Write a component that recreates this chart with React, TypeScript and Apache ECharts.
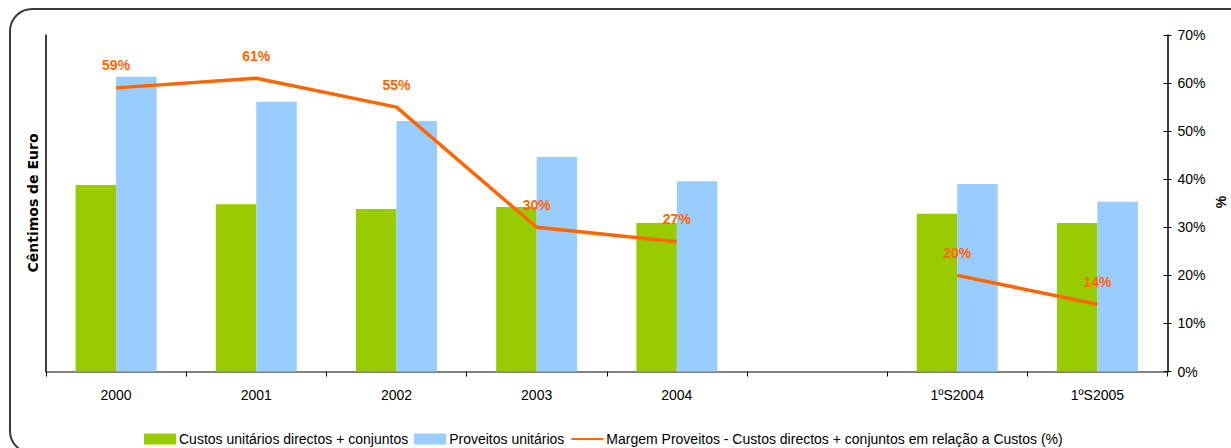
import React, { useEffect, useRef } from "react";
import * as echarts from "echarts";

// Categories along the x axis (one empty slot separates years from semesters)
const categories = ["2000", "2001", "2002", "2003", "2004", "", "1ºS2004", "1ºS2005"];

// Unit costs and unit revenues, in cents of euro
const custosUnitarios = [3.88, 3.48, 3.38, 3.42, 3.09, null, 3.28, 3.09];
const proveitosUnitarios = [6.13, 5.61, 5.21, 4.46, 3.96, null, 3.90, 3.53];

// Margin (revenue - costs) relative to costs, in %
const margem = [59, 61, 55, 30, 27, null, 20, 14];

// Right-axis tick values (%)
const pctMin = 0;
const pctMax = 70;
const pctStep = 10;

const GREEN = "#99CC00";
const BLUE = "#99CCFF";
const ORANGE = "#FF6600";
const FONT = "Liberation Sans, Arial, sans-serif";

export default function App() {
  const ref = useRef<HTMLDivElement>(null);

  useEffect(() => {
    if (!ref.current) return;
    const chart = echarts.init(ref.current, undefined, { renderer: "svg" });
    chart.setOption({
      animation: false,
      backgroundColor: "#ffffff",
      textStyle: { fontFamily: FONT },
      grid: { left: 46, right: 63.5, top: 35, bottom: 76.5, containLabel: false },
      graphic: [
        {
          type: "rect",
          shape: { x: 10, y: 9, width: 1260, height: 444, r: 22 },
          style: { fill: "none", stroke: "#3a3a3a", lineWidth: 2 },
          silent: true,
          z: -1,
        },
        {
          type: "text",
          x: 33,
          y: 203,
          rotation: Math.PI / 2,
          style: {
            text: "Cêntimos de Euro",
            font: `bold 14px "DejaVu Sans", ${FONT}`,
            fill: "#000",
            align: "center",
            verticalAlign: "middle",
          },
        },
        {
          type: "text",
          x: 1221,
          y: 202,
          rotation: Math.PI / 2,
          style: {
            text: "%",
            font: `bold 14px ${FONT}`,
            fill: "#000",
            align: "center",
            verticalAlign: "middle",
          },
        },
      ],
      legend: {
        top: 427,
        left: 139,
        itemGap: 6,
        itemWidth: 32,
        itemHeight: 11,
        textStyle: { fontFamily: FONT, fontSize: 14, color: "#000", padding: [0, 0, 0, -2] },
        data: [
          { name: "Custos unitários directos + conjuntos", icon: "rect" },
          { name: "Proveitos unitários", icon: "rect" },
          { name: "Margem Proveitos - Custos directos + conjuntos em relação a Custos (%)" },
        ],
      },
      xAxis: {
        type: "category",
        data: categories,
        boundaryGap: true,
        axisLine: { lineStyle: { color: "#808080", width: 2 } },
        axisTick: { show: true, length: 5, lineStyle: { color: "#000", width: 1 } },
        axisLabel: { color: "#000", fontSize: 14, fontFamily: FONT, margin: 16 },
        splitLine: { show: false },
      },
      yAxis: [
        {
          type: "value",
          min: 0,
          max: 7,
          position: "left",
          axisLine: { show: true, lineStyle: { color: "#000", width: 1.5 } },
          axisTick: { show: false },
          axisLabel: { show: false },
          splitLine: { show: false },
        },
        {
          type: "value",
          min: pctMin,
          max: pctMax,
          interval: pctStep,
          position: "right",
          axisLine: { show: true, lineStyle: { color: "#000", width: 1.5 } },
          axisTick: { show: true, length: 4, lineStyle: { color: "#000" } },
          axisLabel: {
            color: "#000",
            fontSize: 14,
            fontFamily: FONT,
            margin: 10,
            formatter: (v: number) => `${v}%`,
          },
          splitLine: { show: false },
        },
        {
          // inner half of the crossing ticks on the percentage axis
          type: "value",
          min: pctMin,
          max: pctMax,
          interval: pctStep,
          position: "right",
          axisLine: { show: false },
          axisTick: { show: true, inside: true, length: 4, lineStyle: { color: "#000" } },
          axisLabel: { show: false },
          splitLine: { show: false },
        },
      ],
      series: [
        {
          name: "Custos unitários directos + conjuntos",
          type: "bar",
          yAxisIndex: 0,
          data: custosUnitarios,
          barWidth: 40.5,
          barGap: "0%",
          itemStyle: { color: GREEN },
        },
        {
          name: "Proveitos unitários",
          type: "bar",
          yAxisIndex: 0,
          data: proveitosUnitarios,
          barWidth: 40.5,
          barGap: "0%",
          itemStyle: { color: BLUE },
        },
        {
          name: "Margem Proveitos - Custos directos + conjuntos em relação a Custos (%)",
          type: "line",
          yAxisIndex: 1,
          data: margem,
          connectNulls: false,
          symbol: "circle",
          symbolSize: 1,
          itemStyle: { color: "rgba(0,0,0,0)", borderWidth: 0 },
          lineStyle: { color: ORANGE, width: 3.5 },
          label: {
            show: true,
            position: "top",
            distance: 15,
            color: ORANGE,
            fontWeight: "bold",
            fontSize: 14,
            fontFamily: FONT,
            formatter: (p: any) => `${p.value}%`,
          },
          z: 5,
        },
      ],
    });
    return () => chart.dispose();
  }, []);

  return (
    <div
      ref={ref}
      style={{ position: "fixed", left: 0, top: 0, width: 1231, height: 448, background: "#fff" }}
    />
  );
}
